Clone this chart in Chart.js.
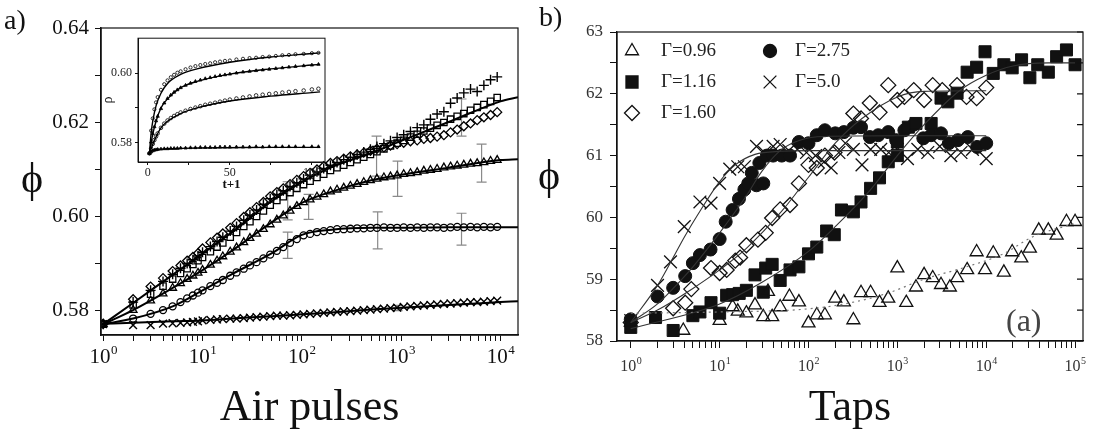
<!DOCTYPE html>
<html>
<head>
<meta charset="utf-8">
<title>Packing fraction vs air pulses / taps</title>
<script src="https://cdn.jsdelivr.net/npm/chart.js@4.4.1/dist/chart.umd.min.js"></script>
<style>
  html, body { margin: 0; padding: 0; background: #fff; }
  body { width: 1100px; height: 437px; position: relative; overflow: hidden;
         font-family: 'Liberation Serif', 'Times New Roman', serif; color: #111; }
  .wrap { position: absolute; }
  .txt { position: absolute; line-height: 1; white-space: nowrap; }
</style>
</head>
<body>
<div class="wrap" style="left:0;top:0;width:540px;height:437px"><canvas id="chartA"></canvas></div>
<div class="wrap" style="left:100px;top:28px;width:232px;height:170px"><canvas id="chartInset"></canvas></div>
<div class="wrap" style="left:540px;top:0;width:560px;height:437px"><canvas id="chartB"></canvas></div>
<div class="txt" style="left:4px;top:6px;font-size:28px">a)</div>
<div class="txt" style="left:539px;top:3px;font-size:28px">b)</div>
<div class="txt" style="left:21px;top:157px;font-size:42px">ϕ</div>
<div class="txt" style="left:538px;top:154px;font-size:42px">ϕ</div>
<div class="txt" style="left:1006px;top:304px;font-size:32px;color:#444">(a)</div>
<script>
// ---------- panel a) : air pulses ----------
const pulseX = [1,2,3,4,5,6,7,8,9,10,12,14,16,19,22,26,30,35,41,48,56,65,76,89,104,121,142,166,194,226,
  264,308,360,420,490,570,670,780,910,1060,1240,1450,1690,1970,2300,2690,3140,3660,4270,4990,5820,6800,7940,9260];
const plusY = [0.5770,0.5817,0.5842,0.5861,0.5876,0.5889,0.5899,0.5907,0.5915,0.5923,
  0.5935,0.5946,0.5955,0.5968,0.5978,0.5991,0.6002,0.6013,0.6025,0.6037,
  0.6046,0.6054,0.6063,0.6071,0.6079,0.6087,0.6094,0.6101,0.6108,0.6114,
  0.6120,0.6125,0.6131,0.6136,0.6142,0.6148,0.6154,0.6160,0.6167,0.6173,
  0.6180,0.6188,0.6194,0.6206,0.6217,0.6222,0.6240,0.6251,0.6262,0.6270,
  0.6265,0.6278,0.6290,0.6296];
const diamondY = [0.5771,0.5823,0.5850,0.5868,0.5883,0.5895,0.5905,0.5913,0.5921,0.5931,
  0.5944,0.5954,0.5963,0.5975,0.5985,0.5998,0.6008,0.6019,0.6030,0.6042,
  0.6051,0.6059,0.6068,0.6077,0.6085,0.6092,0.6099,0.6106,0.6113,0.6117,
  0.6122,0.6127,0.6131,0.6135,0.6139,0.6143,0.6146,0.6150,0.6153,0.6156,
  0.6159,0.6161,0.6164,0.6166,0.6169,0.6172,0.6178,0.6184,0.6191,0.6197,
  0.6204,0.6210,0.6215,0.6221];
const squareY = [0.5770,0.5811,0.5834,0.5851,0.5866,0.5878,0.5888,0.5897,0.5905,0.5912,
  0.5924,0.5934,0.5943,0.5955,0.5965,0.5978,0.5988,0.5999,0.6011,0.6023,
  0.6033,0.6041,0.6050,0.6059,0.6067,0.6074,0.6082,0.6089,0.6097,0.6103,
  0.6108,0.6114,0.6120,0.6125,0.6131,0.6137,0.6143,0.6149,0.6155,0.6161,
  0.6168,0.6174,0.6181,0.6187,0.6193,0.6199,0.6206,0.6212,0.6218,0.6225,
  0.6231,0.6237,0.6244,0.6252];
const triangleY = [0.5770,0.5800,0.5820,0.5835,0.5847,0.5857,0.5866,0.5873,0.5879,0.5885,
  0.5896,0.5905,0.5914,0.5924,0.5933,0.5944,0.5953,0.5962,0.5972,0.5982,
  0.5992,0.6001,0.6011,0.6021,0.6029,0.6035,0.6041,0.6046,0.6052,0.6056,
  0.6060,0.6064,0.6068,0.6072,0.6076,0.6079,0.6082,0.6084,0.6086,0.6089,
  0.6091,0.6093,0.6096,0.6098,0.6100,0.6103,0.6105,0.6107,0.6109,0.6111,
  0.6112,0.6114,0.6117,0.6119];
const circleY = [0.5770,0.5782,0.5792,0.5800,0.5808,0.5817,0.5825,0.5831,0.5837,0.5842,
  0.5851,0.5858,0.5864,0.5873,0.5880,0.5888,0.5895,0.5902,0.5910,0.5918,
  0.5926,0.5934,0.5943,0.5951,0.5959,0.5962,0.5966,0.5968,0.5970,0.5972,
  0.5972,0.5973,0.5974,0.5974,0.5975,0.5975,0.5976,0.5975,0.5975,0.5976,
  0.5975,0.5976,0.5975,0.5976,0.5976,0.5975,0.5976,0.5977,0.5976,0.5977,
  0.5976,0.5977,0.5976,0.5977];
const crossY = [0.5770,0.5768,0.5768,0.5771,0.5772,0.5773,0.5774,0.5775,0.5776,0.5778,
  0.5779,0.5780,0.5781,0.5782,0.5782,0.5783,0.5784,0.5785,0.5786,0.5787,
  0.5788,0.5788,0.5789,0.5790,0.5791,0.5792,0.5793,0.5794,0.5795,0.5796,
  0.5797,0.5798,0.5799,0.5800,0.5801,0.5802,0.5803,0.5804,0.5805,0.5807,
  0.5808,0.5809,0.5810,0.5811,0.5812,0.5813,0.5814,0.5815,0.5816,0.5817,
  0.5817,0.5818,0.5819,0.5820];
// fitted curves
const fitX = [1,2,5,10,20,50,100,200,500,1000,3000,10000,15000];
const fitTopY = [0.5770,0.5815,0.5875,0.5920,0.5966,0.6032,0.6072,0.6104,0.6134,0.6160,0.6200,0.6244,0.6253];
const fitTriY = [0.5770,0.5800,0.5847,0.5885,0.5927,0.5987,0.6028,0.6052,0.6076,0.6088,0.6103,0.6119,0.6121];
const fitCircY = [0.5770,0.5782,0.5808,0.5842,0.5877,0.5921,0.5960,0.5971,0.5975,0.5975,0.5976,0.5976,0.5976];
const fitCrossY = [0.5771,0.5773,0.5776,0.5778,0.5782,0.5787,0.5791,0.5795,0.5801,0.5805,0.5811,0.5817,0.5819];
// grey error bars
const errX = [72, 72, 117, 565, 580, 920, 920, 4050, 4050, 6450];
const errLo = [0.5992, 0.5910, 0.5993, 0.6085, 0.5930, 0.6042, 0.5799, 0.6170, 0.5938, 0.6072];
const errHi = [0.6073, 0.5966, 0.6046, 0.6170, 0.6009, 0.6117, 0.5810, 0.6249, 0.6006, 0.6153];
const yTicksA = [0.58, 0.59, 0.60, 0.61, 0.62, 0.63, 0.64];

// ---------- inset : rho vs t+1 ----------
const insetX = [1,2,3,4,5,6,8,10,12,14,16,18,20,23,26,29,32,35,38,41,44,47,50,54,58,62,66,70,74,78,82,86,90,95,100,104];
const inset1 = [.5770,.5835,.5870,.5896,.5916,.5931,.5952,.5968,.5979,.5988,.5995,.6001,.6005,.6011,.6016,.6020,.6023,.6026,
  .6028,.6031,.6033,.6035,.6036,.6039,.6041,.6043,.6044,.6046,.6047,.6049,.6051,.6052,.6054,.6055,.6057,.6058];
const inset2 = [.5770,.5802,.5826,.5846,.5863,.5876,.5898,.5914,.5927,.5937,.5945,.5952,.5958,.5965,.5971,.5976,.5980,.5984,
  .5987,.5990,.5993,.5995,.5997,.6000,.6003,.6005,.6007,.6009,.6011,.6013,.6015,.6017,.6019,.6021,.6023,.6025];
const inset3 = [.5770,.5783,.5797,.5808,.5818,.5827,.5843,.5855,.5864,.5871,.5877,.5882,.5887,.5892,.5897,.5901,.5905,.5909,
  .5912,.5915,.5918,.5921,.5924,.5927,.5930,.5933,.5936,.5938,.5940,.5942,.5944,.5946,.5948,.5950,.5953,.5955];
const inset4 = [.5770,.5774,.5777,.5779,.5780,.5781,.5782,.5783,.5783,.5784,.5784,.5784,.5785,.5785,.5786,.5786,.5787,.5787,
  .5787,.5787,.5788,.5788,.5788,.5788,.5788,.5788,.5789,.5788,.5789,.5789,.5789,.5789,.5789,.5789,.5789,.5789];
const insetFitX = [1,2,3,5,8,12,20,30,50,75,100,105];
const insetFit1 = [.5770,.5828,.5862,.5906,.5942,.5970,.5996,.6012,.6031,.6046,.6056,.6058];
const insetFit2 = [.5770,.5800,.5825,.5862,.5900,.5926,.5958,.5976,.5997,.6012,.6023,.6025];
const insetFit3 = [.5770,.5782,.5795,.5817,.5843,.5862,.5884,.5900,.5920,.5934,.5944,.5946];
const insetFit4 = [.5770,.5776,.5778,.5781,.5782,.5783,.5784,.5785,.5786,.5787,.5787,.5787];

// ---------- panel b) : taps ----------
const gammaLabels = ['Γ=0.96', 'Γ=1.16', 'Γ=1.60', 'Γ=2.75', 'Γ=5.0'];
const g096X = [1,3.9,10,14,16,20,25,31,35,39,48,61,78,100,124,153,200,250,320,390,500,630,790,1000,1260,1620,2000,2500,3100,3900,
  4700,6100,7800,9700,12000,15800,19600,24800,31000,39000,50000,62000,80000,100000];
const g096Y = [58.3,58.17,58.33,58.55,58.48,58.45,58.58,58.39,58.8,58.39,58.55,58.72,58.63,58.29,58.42,58.42,58.69,58.63,58.34,58.78,
  58.78,58.62,58.69,59.18,58.62,58.87,59.07,59.02,58.91,58.87,59.02,59.15,59.44,59.15,59.42,59.11,59.44,59.34,59.5,59.79,
  59.79,59.71,59.93,59.93];
const g116X = [1,1.9,3,5,6,8,10,12,14,16.6,20,25,31,33,39,48,62,78,100,124,160,195,235,320,390,500,630,790,1000,1000,
  1330,1620,2400,3100,3700,4700,6100,7800,9700,12000,15800,19600,25000,31000,38000,50000,62000,80000,100000];
const g116Y = [58.22,58.38,58.17,58.41,58.47,58.62,58.45,58.74,58.75,58.77,58.82,59.07,58.79,59.18,59.24,58.98,59.15,59.2,59.41,59.52,
  59.78,59.72,60.12,60.09,60.25,60.47,60.64,60.9,61.0,61.22,61.46,61.52,61.52,61.93,61.87,62.01,62.35,62.43,62.68,62.33,
  62.47,62.42,62.55,62.26,62.47,62.35,62.6,62.71,62.47];
const g160X = [1,3,4.1,4.8,8,10,12,15,17,20,27,33,39,48,62,78,100,124,153,196,320,390,490,630,790,1000,1200,1530,2000,2500,
  3200,4700,6000,7800,10000];
const g160Y = [58.3,58.53,58.62,58.84,59.18,59.1,59.15,59.3,59.35,59.55,59.64,59.75,59.99,60.13,60.2,60.55,60.85,60.8,61.0,61.05,
  61.68,61.6,61.85,61.7,62.14,61.9,61.95,62.06,61.9,62.14,62.06,62.14,61.95,61.93,62.1];
const g275X = [1,2,3,4.1,5,6,7.9,10,11.7,14,16.5,19,21,23,26,28,31,34,40,50,62,78,100,124,153,200,250,320,390,490,
  610,790,970,1200,1530,1960,2400,3100,3800,4800,6200,7900,10000];
const g275Y = [58.35,58.72,58.86,59.05,59.26,59.39,59.48,59.65,59.93,60.12,60.3,60.45,60.55,60.72,60.52,60.88,60.55,61.0,61.0,61.0,
  61.0,61.22,61.2,61.33,61.41,61.36,61.38,61.45,61.46,61.3,61.33,61.38,61.25,61.41,61.5,61.28,61.33,61.36,61.2,61.25,
  61.3,61.14,61.2];
const g50X = [1,2,2.8,4,6,8,10,13,16,19,26,32,40,48,60,75,95,120,150,180,220,260,320,400,500,650,800,1000,1300,1700,
  2200,3000,4000,5200,7000,10000];
const g50Y = [58.33,58.9,59.28,59.85,60.25,60.23,60.55,60.78,60.82,60.82,61.15,61.05,61.15,61.18,61.08,61.1,61.05,61.0,60.9,60.8,
  61.05,61.2,61.1,60.85,61.1,61.1,61.05,61.1,60.95,61.1,61.05,61.15,61.0,61.05,61.1,60.95];
// fitted curves
const f096X = [1,10,100,300,800,2000,6000,15000,35000,100000];
const f096Y = [58.45,58.47,58.52,58.62,58.78,59.0,59.2,59.4,59.7,59.9];
const f116X = [1,10,30,100,200,500,1000,2000,5000,10000,20000,50000,100000];
const f116Y = [58.2,58.6,58.95,59.45,59.85,60.45,61.0,61.5,62.05,62.3,62.45,62.5,62.5];
const f160X = [1,2,5,10,20,50,100,200,400,1000,2000,10000];
const f160Y = [58.3,58.5,58.85,59.15,59.5,60.1,60.65,61.2,61.6,61.95,62.04,62.05];
const f275X = [1,2,3,5,10,20,30,50,80,150,1000,10000];
const f275Y = [58.3,58.6,58.85,59.2,59.75,60.35,60.75,61.1,61.25,61.31,61.32,61.32];
const f50X = [1,2,3,4,6,10,15,25,50,100,1000,10000];
const f50Y = [58.3,58.9,59.35,59.68,60.1,60.58,60.85,61.02,61.07,61.08,61.08,61.08];
const yTicksB = [58, 58.5, 59, 59.5, 60, 60.5, 61, 61.5, 62, 62.5, 63];

// decade tick labels: base "10" with a raised exponent
const decadeExps = ['0', '1', '2', '3', '4', '5'];

// ---------- helpers ----------
const serif = "'Liberation Serif', 'Times New Roman', serif";
const pts = (xs, ys) => xs.map((x, i) => ({ x: x, y: ys[i] }));

function fitLine(xs, ys, extra) {
  return Object.assign({ data: pts(xs, ys), showLine: true, pointRadius: 0, borderColor: '#000',
    borderWidth: 2, cubicInterpolationMode: 'monotone', order: 0 }, extra || {});
}
function marks(xs, ys, style, r, extra) {
  return Object.assign({ data: pts(xs, ys), showLine: false, pointStyle: style, pointRadius: r,
    pointBorderColor: '#000', pointBackgroundColor: 'rgba(255,255,255,0)', pointBorderWidth: 1.3, order: 1 }, extra || {});
}
// log axis ticks 1..9 per decade
function logTicks(maxDec) {
  const t = [];
  for (let d = 0; d <= maxDec; d++) {
    for (let m = 1; m <= 9; m++) {
      if (d === maxDec && m > 1) break;
      t.push({ value: m * Math.pow(10, d), major: m === 1 });
    }
  }
  return t;
}
// draws "10" + superscript under each decade tick of the x scale
function decadeLabelPlugin(maxDec, size, baseY, color) {
  return { id: 'decadeLabels', afterDraw(chart) {
    const ctx = chart.ctx, sx = chart.scales.x;
    ctx.save();
    ctx.fillStyle = color;
    ctx.textBaseline = 'alphabetic';
    ctx.textAlign = 'left';
    for (let k = 0; k <= maxDec; k++) {
      const px = sx.getPixelForValue(Math.pow(10, k));
      ctx.font = size + 'px ' + serif;
      const w1 = ctx.measureText('10').width;
      ctx.font = Math.round(size * 0.62) + 'px ' + serif;
      const w2 = ctx.measureText(decadeExps[k]).width;
      const left = px - (w1 + w2) / 2;
      ctx.font = size + 'px ' + serif;
      ctx.fillText('10', left, baseY);
      ctx.font = Math.round(size * 0.62) + 'px ' + serif;
      ctx.fillText(decadeExps[k], left + w1 + 0.5, baseY - size * 0.42);
    }
    ctx.restore();
  } };
}
function framePlugin(lw, rightTicks) {
  return { id: 'frame', afterDraw(chart) {
    const ctx = chart.ctx, a = chart.chartArea;
    ctx.save();
    ctx.strokeStyle = '#111';
    ctx.lineWidth = lw;
    ctx.strokeRect(a.left, a.top, a.right - a.left, a.bottom - a.top);
    if (rightTicks) {
      const y = chart.scales.y;
      ctx.beginPath();
      rightTicks.forEach(v => { const py = y.getPixelForValue(v); ctx.moveTo(a.right, py); ctx.lineTo(a.right - 6, py); });
      ctx.stroke();
    }
    ctx.restore();
  } };
}
function errorBarPlugin(xs, lo, hi) {
  return { id: 'errorBars', beforeDatasetsDraw(chart) {
    const ctx = chart.ctx, sx = chart.scales.x, sy = chart.scales.y;
    ctx.save();
    ctx.strokeStyle = '#8a8a8a';
    ctx.lineWidth = 1.2;
    xs.forEach((v, i) => {
      const px = sx.getPixelForValue(v), p1 = sy.getPixelForValue(lo[i]), p2 = sy.getPixelForValue(hi[i]);
      ctx.beginPath();
      ctx.moveTo(px, p1); ctx.lineTo(px, p2);
      ctx.moveTo(px - 5, p1); ctx.lineTo(px + 5, p1);
      ctx.moveTo(px - 5, p2); ctx.lineTo(px + 5, p2);
      ctx.stroke();
    });
    ctx.restore();
  } };
}
const axisGrid = len => ({ drawOnChartArea: false, color: '#111', tickLength: len, tickWidth: 1 });

// ---------- chart a ----------
new Chart(document.getElementById('chartA'), {
  type: 'scatter',
  data: { datasets: [
    fitLine(fitX, fitTopY), fitLine(fitX, fitTriY), fitLine(fitX, fitCircY), fitLine(fitX, fitCrossY),
    marks(pulseX, plusY, 'cross', 5, { pointBorderWidth: 1.4 }),
    marks(pulseX, diamondY, 'rectRot', 4.5),
    marks(pulseX, squareY, 'rect', 4.5),
    marks(pulseX, triangleY, 'triangle', 4.5),
    marks(pulseX, circleY, 'circle', 3.5),
    marks(pulseX, crossY, 'crossRot', 5.5, { pointBorderWidth: 1.4 })
  ] },
  options: {
    responsive: true, maintainAspectRatio: false, animation: false,
    layout: { padding: { left: 0, top: 28, right: 22, bottom: 0 } },
    plugins: { legend: { display: false }, tooltip: { enabled: false } },
    scales: {
      x: {
        type: 'logarithmic', min: 0.95, max: 15000,
        afterBuildTicks: s => { s.ticks = logTicks(4); },
        afterFit: s => { s.height = 102; },
        grid: axisGrid(6), border: { color: '#111', width: 1.5 },
        ticks: { autoSkip: false, maxRotation: 0, callback: () => '' },
        title: { display: true, text: 'Air pulses', color: '#111', font: { family: serif, size: 44 }, padding: { top: 0, bottom: 2 } }
      },
      y: {
        min: 0.5747, max: 0.64,
        afterBuildTicks: s => { s.ticks = yTicksA.map(v => ({ value: v })); },
        afterFit: s => { s.width = 101; },
        grid: axisGrid(6), border: { color: '#111', width: 1.5 },
        ticks: { autoSkip: false, padding: 6, color: '#111', font: { family: serif, size: 21 },
          callback: v => (Math.round(v * 100) % 2 === 0 ? v.toFixed(2) : '') }
      }
    }
  },
  plugins: [framePlugin(1.2), errorBarPlugin(errX, errLo, errHi), decadeLabelPlugin(4, 21, 363, '#111')]
});

// ---------- inset ----------
const insetLine = (xs, ys) => fitLine(xs, ys, { borderWidth: 1.4 });
new Chart(document.getElementById('chartInset'), {
  type: 'scatter',
  data: { datasets: [
    insetLine(insetFitX, insetFit1), insetLine(insetFitX, insetFit2), insetLine(insetFitX, insetFit3), insetLine(insetFitX, insetFit4),
    marks(insetX, inset1, 'circle', 1.6, { pointBorderWidth: 0.8 }),
    marks(insetX, inset2, 'triangle', 1.9, { pointBorderWidth: 0.8, pointBackgroundColor: '#000' }),
    marks(insetX, inset3, 'circle', 1.8, { pointBorderWidth: 0.8 }),
    marks(insetX, inset4, 'triangle', 1.9, { pointBorderWidth: 0.8, pointBackgroundColor: '#000' })
  ] },
  options: {
    responsive: true, maintainAspectRatio: false, animation: false,
    layout: { padding: { left: 0, top: 4, right: 7, bottom: 0 } },
    plugins: { legend: { display: false }, tooltip: { enabled: false } },
    scales: {
      x: {
        type: 'linear', min: -6, max: 108,
        afterBuildTicks: s => { s.ticks = [0, 25, 50, 75, 100].map(v => ({ value: v })); },
        afterFit: s => { s.height = 36; },
        grid: axisGrid(3), border: { color: '#111', width: 1 },
        ticks: { autoSkip: false, maxRotation: 0, padding: 1, color: '#222', font: { family: serif, size: 12 },
          callback: v => (v % 50 === 0 ? String(v) : '') },
        title: { display: true, text: 't+1', color: '#111', font: { family: serif, size: 13, weight: 'bold' }, padding: { top: 0, bottom: 6 } }
      },
      y: {
        min: 0.5745, max: 0.610,
        afterBuildTicks: s => { s.ticks = [0.58, 0.59, 0.60].map(v => ({ value: v })); },
        afterFit: s => { s.width = 38; },
        grid: axisGrid(3), border: { color: '#111', width: 1 },
        ticks: { autoSkip: false, padding: 3, color: '#222', font: { family: serif, size: 12 },
          callback: v => (Math.round(v * 100) % 2 === 0 ? v.toFixed(2) : '') },
        title: { display: true, text: 'ρ', color: '#111', font: { family: serif, size: 14 }, padding: 0 }
      }
    }
  },
  plugins: [framePlugin(1)]
});

// ---------- chart b ----------
const solid = { borderWidth: 1.1, borderColor: '#333' };
const hollow = { pointBorderWidth: 1.3, pointBorderColor: '#111' };
const filled = { pointBorderWidth: 1, pointBorderColor: '#111', pointBackgroundColor: '#111' };
const legendItems = [
  { label: gammaLabels[0], style: 'triangle', r: 7.5, fill: false, col: 0, row: 0 },
  { label: gammaLabels[1], style: 'rect', r: 8.5, fill: true, col: 0, row: 1 },
  { label: gammaLabels[2], style: 'rectRot', r: 7.5, fill: false, col: 0, row: 2 },
  { label: gammaLabels[3], style: 'circle', r: 6.5, fill: true, col: 1, row: 0 },
  { label: gammaLabels[4], style: 'crossRot', r: 9, fill: false, col: 1, row: 1 }
];
const legendPlugin = { id: 'gammaLegend', afterDraw(chart) {
  const ctx = chart.ctx, a = chart.chartArea;
  ctx.save();
  ctx.font = '19px ' + serif;
  ctx.textBaseline = 'middle';
  ctx.textAlign = 'left';
  legendItems.forEach(it => {
    const mx = a.left + 15 + it.col * 138, my = a.top + 19 + it.row * 31;
    ctx.strokeStyle = '#111';
    ctx.fillStyle = it.fill ? '#111' : 'rgba(255,255,255,0)';
    ctx.lineWidth = 1.3;
    Chart.helpers.drawPoint(ctx, { pointStyle: it.style, radius: it.r, rotation: 0, borderWidth: 1.3 }, mx, my);
    ctx.fillStyle = '#222';
    ctx.fillText(it.label, mx + 29 - it.col * 4, my);
  });
  ctx.restore();
} };

new Chart(document.getElementById('chartB'), {
  type: 'scatter',
  data: { datasets: [
    fitLine(f096X, f096Y, { borderWidth: 1.2, borderColor: '#777', borderDash: [2, 4] }),
    fitLine(f116X, f116Y, solid), fitLine(f160X, f160Y, solid),
    fitLine(f275X, f275Y, solid), fitLine(f50X, f50Y, solid),
    marks(g096X, g096Y, 'triangle', 7.5, hollow),
    marks(g116X, g116Y, 'rect', 8.5, filled),
    marks(g160X, g160Y, 'rectRot', 7.5, hollow),
    marks(g275X, g275Y, 'circle', 6.5, filled),
    marks(g50X, g50Y, 'crossRot', 9, hollow)
  ] },
  options: {
    responsive: true, maintainAspectRatio: false, animation: false,
    layout: { padding: { left: 0, top: 32, right: 17, bottom: 0 } },
    plugins: { legend: { display: false }, tooltip: { enabled: false } },
    scales: {
      x: {
        type: 'logarithmic', min: 0.744, max: 122800,
        afterBuildTicks: s => { s.ticks = logTicks(5); },
        afterFit: s => { s.height = 96; },
        grid: axisGrid(7), border: { color: '#111', width: 1.3 },
        ticks: { autoSkip: false, maxRotation: 0, callback: () => '' },
        title: { display: true, text: 'Taps', color: '#111', font: { family: serif, size: 44 }, padding: { top: 0, bottom: 2 } }
      },
      y: {
        min: 58, max: 63,
        afterBuildTicks: s => { s.ticks = yTicksB.map(v => ({ value: v })); },
        afterFit: s => { s.width = 77; },
        grid: axisGrid(7), border: { color: '#111', width: 1.3 },
        ticks: { autoSkip: false, padding: 7, color: '#333', font: { family: serif, size: 17 },
          callback: v => (v % 1 === 0 ? String(v) : '') }
      }
    }
  },
  plugins: [framePlugin(1.2, yTicksB), legendPlugin, decadeLabelPlugin(5, 16, 371, '#333')]
});
</script>
</body>
</html>
